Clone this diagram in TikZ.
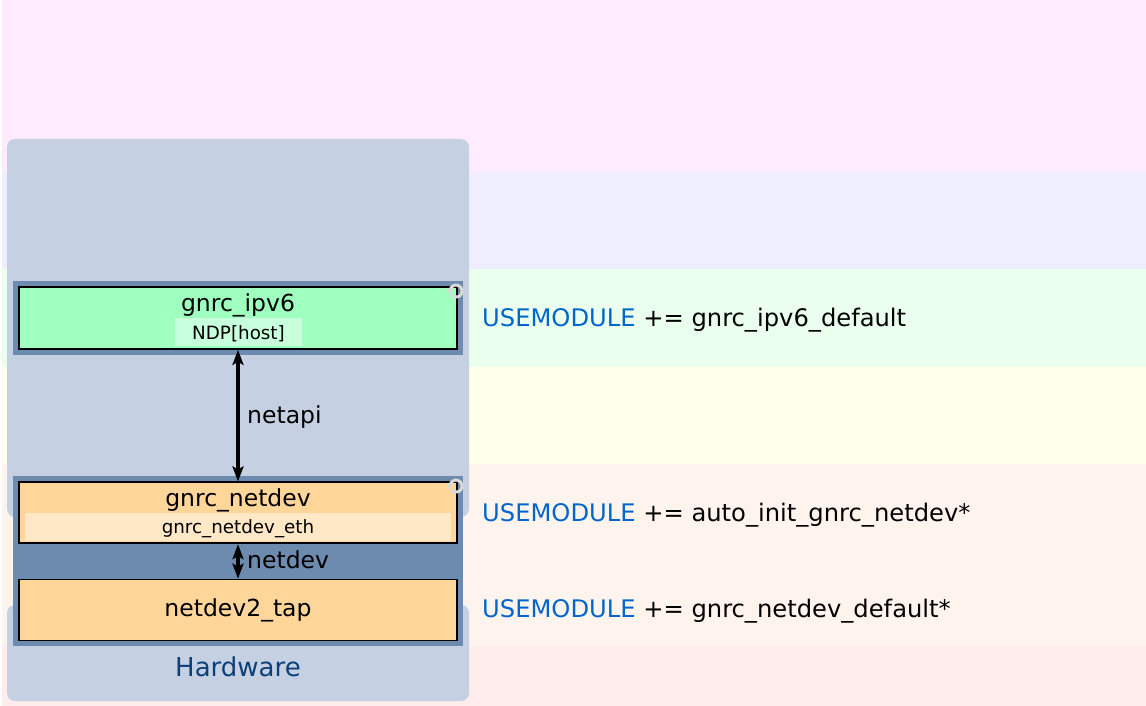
\documentclass[tikz,border=0pt]{standalone}
\usepackage{fontspec}
\setmainfont{DejaVu Sans}
\usetikzlibrary{arrows.meta}
\definecolor{bandA}{HTML}{FFEBFF}
\definecolor{bandB}{HTML}{EEEEFF}
\definecolor{bandC}{HTML}{EBFFEE}
\definecolor{bandD}{HTML}{FFFFEB}
\definecolor{bandE}{HTML}{FFF3EE}
\definecolor{bandF}{HTML}{FFEDED}
\definecolor{panel}{HTML}{C5D1E3}
\definecolor{frame}{HTML}{6D8BAE}
\definecolor{greenbox}{HTML}{9FFFBF}
\definecolor{greensub}{HTML}{C8FFDC}
\definecolor{orangebox}{HTML}{FFD699}
\definecolor{orangesub}{HTML}{FFE8C6}
\definecolor{modblue}{HTML}{0066CC}
\definecolor{hwblue}{HTML}{0D3F78}
\definecolor{iconfill}{HTML}{D8D8D8}
\tikzset{
  layerbox/.style={draw=black, line width=1.7pt, inner sep=0pt, minimum width=438pt},
  subbox/.style={inner sep=0pt},
  titletext/.style={font=\fontsize{23.5}{27}\selectfont, anchor=base, inner sep=0pt},
  subtext/.style={font=\fontsize{18.3}{21}\selectfont, anchor=base, inner sep=0pt},
  ruletext/.style={font=\fontsize{24.2}{28}\selectfont, anchor=base west, inner sep=0pt},
  apiarrow/.style={line width=3.6pt, {Stealth[length=15pt,width=11pt,inset=3pt]}-{Stealth[length=15pt,width=11pt,inset=3pt]}},
  refresh/.style={draw=iconfill, line width=3pt},
}
\begin{document}
\begin{tikzpicture}[x=1pt,y=-1pt]
\useasboundingbox (0,0) rectangle (1146,706);
\fill[white] (0,0) rectangle (1146,706);
% bands
\fill[bandA] (2,0) rectangle (1146,172);
\fill[bandB] (2,172) rectangle (1146,269);
\fill[bandC] (2,269) rectangle (1146,367);
\fill[bandD] (2,367) rectangle (1146,464);
\fill[bandE] (2,464) rectangle (1146,646);
\fill[bandF] (2,646) rectangle (1146,706);
% panels
\fill[panel, rounded corners=8pt] (7,139) rectangle (469,517);
\fill[panel, rounded corners=8pt] (7,605) rectangle (469,701);
% frames
\fill[frame] (13,281) rectangle (463,355);
\fill[frame] (13,476) rectangle (463,646);
% boxes
\node[layerbox, fill=greenbox, minimum height=62pt] (ipv6) at (238,318) {};
\node[subbox, fill=greensub, minimum width=127pt, minimum height=28pt] (ndp) at (238.5,332) {};
\node[titletext] (ipv6t) at (238,311.7) {gnrc\_ipv6};
\node[subtext] (ndpt) at (238.5,339.3) {NDP[host]};

\node[layerbox, fill=orangebox, minimum height=61pt] (gnetdev) at (238,512.8) {};
\node[subbox, fill=orangesub, minimum width=426pt, minimum height=28pt] (eth) at (238,527) {};
\node[titletext] (gnetdevt) at (238,506.7) {gnrc\_netdev};
\node[subtext] (etht) at (238,533.3) {gnrc\_netdev\_eth};

\node[layerbox, fill=orangebox, minimum height=61pt] (tap) at (238,610) {};
\node[titletext] (tapt) at (238,616.7) {netdev2\_tap};

% connectors
\draw[apiarrow] (ipv6.south) -- (gnetdev.north);
\draw[apiarrow] (gnetdev.south) -- (tap.north);
\node[titletext, anchor=base west] (netapi) at (247,423.3) {netapi};
\node[titletext, anchor=base west] (netdevl) at (247,568.3) {netdev};

% hardware
\node[font=\fontsize{26}{29}\selectfont, anchor=base, inner sep=0pt, text=hwblue] (hw) at (238,676.7) {Hardware};

% refresh icons
\coordinate (r1) at (456,289);
\coordinate (r2) at (456,484);
\foreach \c in {r1,r2}{
  \draw[refresh] ([shift={(170:6)}]\c) arc[start angle=170, end angle=-150, radius=6pt];
  \fill[iconfill] ([shift={(170:6)}]\c) ++(-4,-1) -- ++(7,-1) -- ++(-3,6) -- cycle;
}

% rules
\node[ruletext] (r1t) at (482,326) {\textcolor{modblue}{USEMODULE} += gnrc\_ipv6\_default};
\node[ruletext] (r2t) at (482,521.7) {\textcolor{modblue}{USEMODULE} += auto\_init\_gnrc\_netdev*};
\node[ruletext] (r3t) at (482,617.7) {\textcolor{modblue}{USEMODULE} += gnrc\_netdev\_default*};
\end{tikzpicture}
\end{document}
